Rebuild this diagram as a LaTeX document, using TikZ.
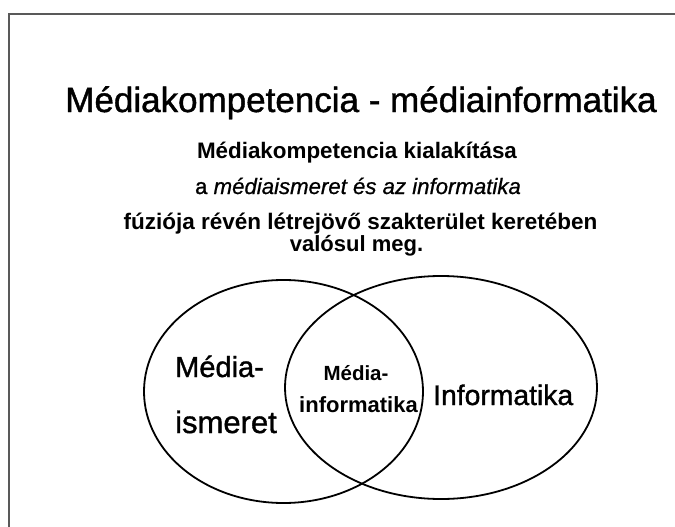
\documentclass[tikz,border=0pt]{standalone}
\usepackage{fontspec}
\setmainfont{Liberation Sans}
\newfontface\heavy{Liberation Sans}[FakeBold=1.2]
\newfontface\heavyit{Liberation Sans Italic}[FakeBold=0.8]
\begin{document}
\begin{tikzpicture}[x=1pt,y=-1pt,
  txt/.style={inner sep=0pt, anchor=base},
  venn/.style={draw=black, line width=1.8pt},
  frame/.style={draw=black!65, line width=1.5pt}]
\useasboundingbox[fill=white] (0,0) rectangle (675,527);
\draw[frame] (9,527) -- (9,14) -- (675,14);
% texts
\node[txt] (title) at (361,112) {\heavy\fontsize{35}{40}\selectfont Médiakompetencia - médiainformatika};
\node[txt] (l2) at (357,158) {\fontsize{22.4}{26}\selectfont\bfseries Médiakompetencia kialakítása};
\node[txt] (l3) at (358,194) {\fontsize{22.2}{26}\selectfont{\heavy a} \heavyit médiaismeret és az informatika};
\node[txt] (l4) at (360.5,229) {\fontsize{22.5}{26}\selectfont\bfseries fúziója révén létrejövő szakterület keretében};
\node[txt] (l5) at (356.5,251) {\fontsize{22}{26}\selectfont\bfseries valósul meg.};
% circles
\draw[venn] (283.5,391.5) ellipse [x radius=139.5pt, y radius=111.5pt];
\draw[venn] (441,387.5) ellipse [x radius=156pt, y radius=111.5pt];
% circle labels
\node[txt, anchor=base west] (mi1) at (175,377) {\heavy\fontsize{29}{34}\selectfont Média-};
\node[txt, anchor=base west] (mi2) at (175,433) {\heavy\fontsize{31}{34}\selectfont ismeret};
\node[txt] (mm1) at (356,380) {\fontsize{20.5}{24}\selectfont\bfseries Média-};
\node[txt] (mm2) at (358.5,412) {\fontsize{22}{24}\selectfont\bfseries informatika};
\node[txt, anchor=base west] (inf) at (433,405) {\heavy\fontsize{28.3}{34}\selectfont Informatika};
\end{tikzpicture}
\end{document}
